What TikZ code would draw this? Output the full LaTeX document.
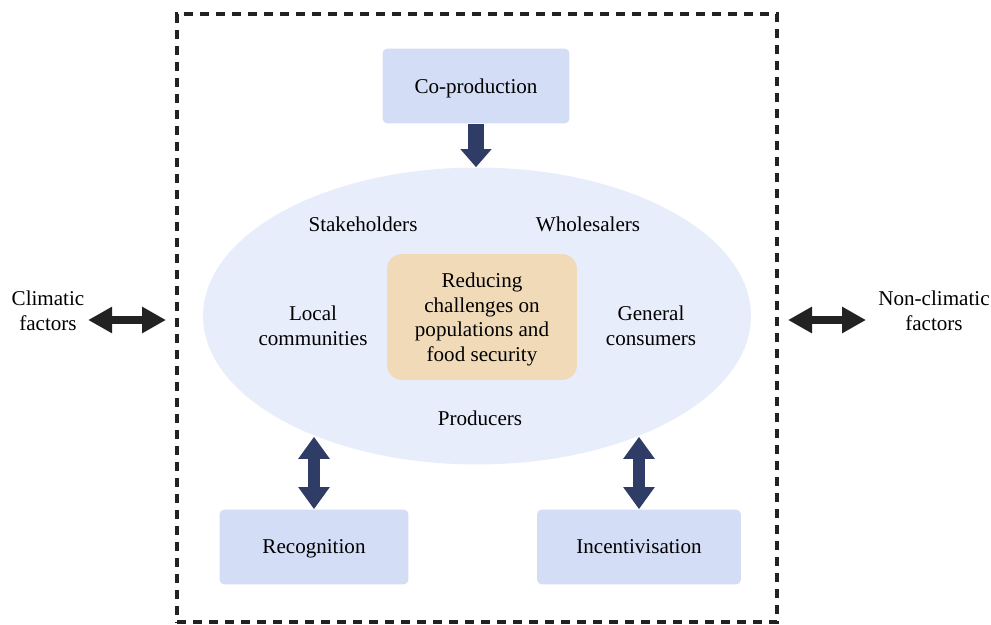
\documentclass[tikz,border=0pt]{standalone}
\usepackage{fontspec}
\setmainfont{Liberation Serif}
\usepackage{tikz}
\usetikzlibrary{shapes.geometric,calc,positioning,arrows.meta}
\definecolor{boxblue}{RGB}{212,221,246}
\definecolor{ellblue}{RGB}{231,237,250}
\definecolor{tan}{RGB}{241,218,184}
\definecolor{navy}{RGB}{47,60,102}
\definecolor{frameblack}{RGB}{34,34,34}
\tikzset{
  txt/.style={font=\fontsize{12}{14}\selectfont,align=center,inner sep=0pt},
  actbox/.style={txt,fill=boxblue,rounded corners=0.1cm,minimum height=1.5cm,text depth=-0.08cm},
  navyarrow/.style={navy,line width=0.24cm,{Triangle[width=0.6cm,length=0.44cm]}-{Triangle[width=0.6cm,length=0.44cm]}},
  blackarrow/.style={frameblack,line width=0.17cm,{Triangle[width=0.5cm,length=0.48cm]}-{Triangle[width=0.5cm,length=0.48cm]}}
}
\begin{document}
\begin{tikzpicture}[x=0.02cm,y=-0.02cm]
\useasboundingbox (0,0) rectangle (991,625);
\node[draw=frameblack,line width=0.08cm,dash pattern=on 0.18cm off 0.14cm,minimum width=12cm,minimum height=12.16cm] (frame) at (477,318) {};
\node[ellipse,fill=ellblue,minimum width=10.96cm,minimum height=5.94cm,inner sep=0pt] (ell) at (477,316) {};
\node[txt,fill=tan,rounded corners=0.3cm,minimum width=3.8cm,minimum height=2.52cm,text depth=-0.3cm] (goal) at (482,317) {Reducing\\challenges on\\populations and\\food security};
\node[actbox,minimum width=3.74cm] (coprod) at (476,86) {Co-production};
\node[actbox,minimum width=3.78cm] (recog) at (314,547) {Recognition};
\node[actbox,minimum width=4.08cm] (incent) at (639,547) {Incentivisation};
\node[txt] (stake) at (363,224) {Stakeholders};
\node[txt] (whole) at (588,224) {Wholesalers};
\node[txt] (local) at (313,326) {Local\\communities};
\node[txt] (general) at (651,326) {General\\consumers};
\node[txt] (prod) at (480,418) {Producers};
\node[txt] (clim) at (48,311) {Climatic\\factors};
\node[txt] (nonclim) at (934,311) {Non-climatic\\factors};
\coordinate (climtip) at (166,320);
\coordinate (nonclimtip) at (788,320);
\draw[navy,line width=0.32cm,-{Triangle[width=0.6cm,length=0.36cm]}] (coprod.south) -- (coprod.south |- ell.north);
\draw[navyarrow] (recog.north |- ell.-143) -- (recog.north);
\draw[navyarrow] (incent.north |- ell.-37) -- (incent.north);
\draw[blackarrow,shorten <=2] (clim.east |- climtip) -- (climtip);
\draw[blackarrow] (nonclimtip) -- (nonclimtip -| 866,0);
\end{tikzpicture}
\end{document}
